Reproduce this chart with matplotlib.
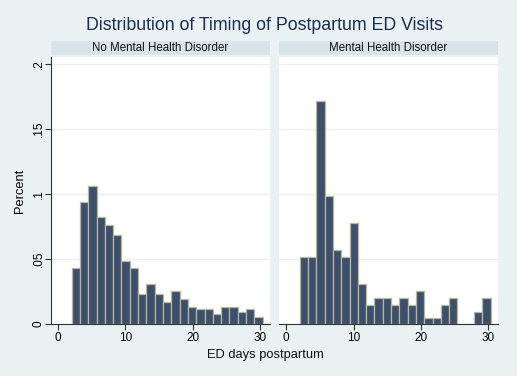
import matplotlib
matplotlib.use("Agg")
import matplotlib.pyplot as plt
import numpy as np

plt.rcParams['font.family'] = ['Liberation Sans', 'DejaVu Sans']

# --------------DATA--------------
bin_start = 2.0
bin_width = 1.235
no_mhd = [0.0428, 0.0941, 0.1062, 0.0826, 0.0764, 0.0687, 0.0487, 0.0428,
          0.0228, 0.0308, 0.0228, 0.0169, 0.0251, 0.0195, 0.0133, 0.0113,
          0.0113, 0.0074, 0.0133, 0.0133, 0.0092, 0.0113, 0.0056]
mhd = [0.0513, 0.0513, 0.1718, 0.0987, 0.0569, 0.0513, 0.0779, 0.0308,
       0.0146, 0.0203, 0.0203, 0.0146, 0.0203, 0.0146, 0.0256, 0.0044,
       0.0044, 0.0146, 0.0203, 0.0, 0.0, 0.0095, 0.0203]
panel_titles = ["No Mental Health Disorder", "Mental Health Disorder"]
yticks = [0, 0.05, 0.1, 0.15, 0.2]
ytick_labels = ["0", ".05", ".1", ".15", ".2"]
xticks = [0, 10, 20, 30]

bg = '#EAF1F3'
strip_col = '#D8E3EA'
bar_fill = '#3D4F6F'
bar_edge = '#B9B88F'
grid_col = '#E9F0F2'

fig = plt.figure(figsize=(5.17, 3.76), dpi=100, facecolor=bg)

fig.text(0.512, 0.933, "Distribution of Timing of Postpartum ED Visits",
         ha='center', va='center', fontsize=12.8, color='#1E2A52')

lefts = [0.0986, 0.5397]
for i, (vals, title) in enumerate(zip([no_mhd, mhd], panel_titles)):
    ax = fig.add_axes([lefts[i], 0.1383, 0.4236, 0.7101])
    ax.set_facecolor('white')
    edges = bin_start + bin_width * np.arange(len(vals))
    ax.bar(edges, vals, width=bin_width, align='edge', color=bar_fill,
           edgecolor=bar_edge, linewidth=0.9, zorder=3)
    ax.set_xlim(-1.08, 31.5)
    ax.set_ylim(0, 0.2054)
    ax.set_yticks(yticks)
    ax.set_xticks(xticks)
    ax.set_xticklabels([str(t) for t in xticks], fontsize=8.5)
    ax.grid(axis='y', color=grid_col, linewidth=1.0, zorder=0)
    for s in ['top', 'right']:
        ax.spines[s].set_visible(False)
    ax.spines['bottom'].set_color('#333333')
    ax.spines['bottom'].set_linewidth(0.8)
    ax.tick_params(axis='x', length=4, width=0.8, color='#333333', pad=2)
    if i == 0:
        ax.set_yticklabels(ytick_labels, fontsize=8.5, rotation=90, va='center')
        ax.spines['left'].set_color('#333333')
        ax.spines['left'].set_linewidth(0.8)
        ax.tick_params(axis='y', length=4, width=0.8, color='#333333', pad=0.5)
        ax.set_ylabel("Percent", fontsize=9.3, labelpad=5)
    else:
        ax.spines['left'].set_visible(False)
        ax.tick_params(axis='y', length=0, labelleft=False)

    # panel header strip
    sx = fig.add_axes([lefts[i], 0.8537, 0.4236, 0.0372])
    sx.set_facecolor(strip_col)
    sx.set_xticks([])
    sx.set_yticks([])
    for s in sx.spines.values():
        s.set_visible(False)
    sx.text(0.5, 0.5, title, ha='center', va='center', fontsize=8.3,
            color='#111111', transform=sx.transAxes)

fig.text(0.513, 0.056, "ED days postpartum", ha='center', va='center',
         fontsize=9.3, color='#111111')

fig.savefig("out.png", dpi=100, facecolor=bg)
